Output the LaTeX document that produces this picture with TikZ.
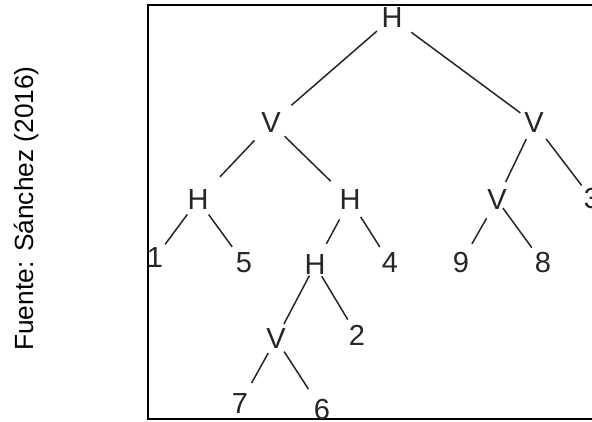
\documentclass[tikz,border=0pt]{standalone}
\usepackage{fontspec}
\setmainfont{Liberation Sans}
\begin{document}
\begin{tikzpicture}[x=1pt,y=-1pt,
  lbl/.style={font=\fontsize{29}{31}\selectfont, text=black!85, inner sep=0pt},
  br/.style={draw=black!85, line width=1.5pt},
  frame/.style={draw=black, line width=2pt},
  captxt/.style={font=\fontsize{26.3}{28}\selectfont, text=black, inner sep=0pt, rotate=90, anchor=base}
]
\useasboundingbox (0,0) rectangle (592,421);
\clip (0,0) rectangle (592,421);
\fill[white] (0,0) rectangle (592,421);
\draw[frame] (600,5) -- (148,5) -- (148,419) -- (600,419);
\node[captxt] (src) at (33,208.5) {Fuente: Sánchez (2016)};
% nodes
\node[lbl] (h0) at (392,18) {H};
\node[lbl] (v1) at (271,123) {V};
\node[lbl] (v2) at (534,123) {V};
\node[lbl] (h1) at (198,200) {H};
\node[lbl] (h2) at (350,200) {H};
\node[lbl] (n1) at (155,258) {1};
\node[lbl] (n5) at (244,263) {5};
\node[lbl] (h3) at (315,265) {H};
\node[lbl] (n4) at (390,263) {4};
\node[lbl] (v3) at (497,200) {V};
\node[lbl] (n3) at (592,199) {3};
\node[lbl] (n9) at (461,263) {9};
\node[lbl] (n8) at (543,263) {8};
\node[lbl] (v4) at (276,339) {V};
\node[lbl] (n2) at (357,335) {2};
\node[lbl] (n7) at (240,404) {7};
\node[lbl] (n6) at (322,410) {6};
% edges
\draw[br, shorten <=20pt, shorten >=27pt] (h0.center) -- (v1.center);
\draw[br, shorten <=24pt, shorten >=17pt] (h0.center) -- (v2.center);
\draw[br, shorten <=24pt, shorten >=32pt] (v1.center) -- (h1.center);
\draw[br, shorten <=19pt, shorten >=27pt] (v1.center) -- (h2.center);
\draw[br, shorten <=18pt, shorten >=17pt] (h1.center) -- (n1.center);
\draw[br, shorten <=18pt, shorten >=20pt] (h1.center) -- (n5.center);
\draw[br, shorten <=22pt, shorten >=24pt] (h2.center) -- (h3.center);
\draw[br, shorten <=20pt, shorten >=19pt] (h2.center) -- (n4.center);
\draw[br, shorten <=18pt, shorten >=20pt] (v2.center) -- (v3.center);
\draw[br, shorten <=20pt, shorten >=17pt] (v2.center) -- (n3.center);
\draw[br, shorten <=21pt, shorten >=22pt] (v3.center) -- (n9.center);
\draw[br, shorten <=10pt, shorten >=19pt] (v3.center) -- (n8.center);
\draw[br, shorten <=12pt, shorten >=17pt] (h3.center) -- (v4.center);
\draw[br, shorten <=13pt, shorten >=18pt] (h3.center) -- (n2.center);
\draw[br, shorten <=16pt, shorten >=24pt] (v4.center) -- (n7.center);
\draw[br, shorten <=15pt, shorten >=25pt] (v4.center) -- (n6.center);
\end{tikzpicture}
\end{document}
